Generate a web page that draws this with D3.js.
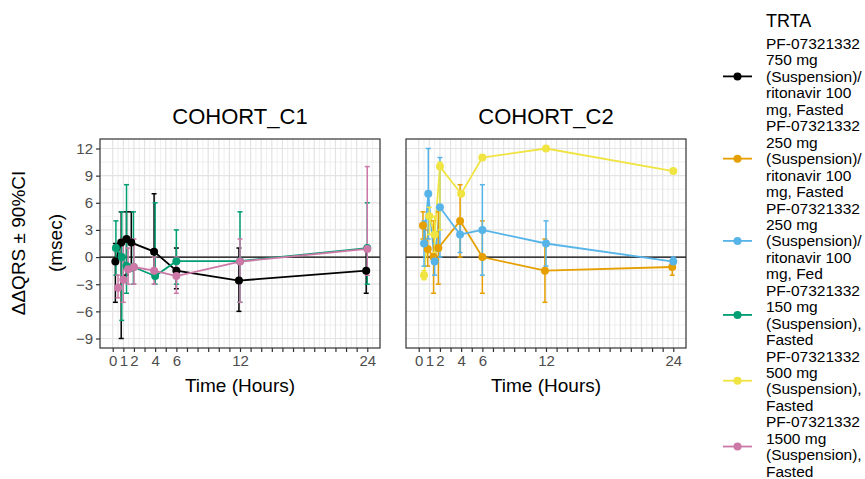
<!DOCTYPE html>
<html>
<head>
<meta charset="utf-8">
<script src="https://cdn.jsdelivr.net/npm/d3@7"></script>
<style>
  body { margin: 0; background: #fff; }
  svg text { font-family: "Liberation Sans", Arial, sans-serif; }
</style>
</head>
<body>
<svg id="chart" width="865" height="479"></svg>
<script>
// series labels / cohorts / colours
const seriesLabels = [
  ['PF-07321332', '750 mg', '(Suspension)/', 'ritonavir 100', 'mg, Fasted'],
  ['PF-07321332', '250 mg', '(Suspension)/', 'ritonavir 100', 'mg, Fasted'],
  ['PF-07321332', '250 mg', '(Suspension)/', 'ritonavir 100', 'mg, Fed'],
  ['PF-07321332', '150 mg', '(Suspension),', 'Fasted'],
  ['PF-07321332', '500 mg', '(Suspension),', 'Fasted'],
  ['PF-07321332', '1500 mg', '(Suspension),', 'Fasted']
];
const seriesCohort = ['COHORT_C1', 'COHORT_C2', 'COHORT_C2', 'COHORT_C1', 'COHORT_C2', 'COHORT_C1'];
const seriesColors = ['#000000', '#E69F00', '#56B4E9', '#009E73', '#F0E442', '#CC79A7'];
const cohorts = ['COHORT_C1', 'COHORT_C2'];

// 750 mg / ritonavir, fasted
const t750r = [0.25, 0.8, 1.3, 1.75, 3.9, 6, 11.9, 23.9];
const m750r = [-0.5, 1.6, 2.0, 1.6, 0.6, -1.5, -2.6, -1.5];
const lo750r = [-5, -9, -2, -1.5, -1.5, -3.5, -6, -4];
const hi750r = [1.5, 5, 5, 5, 7, 1, 1, 1];
// 250 mg / ritonavir, fasted
const t250r = [0.4, 0.85, 1.4, 1.85, 3.9, 6, 11.9, 23.9];
const m250r = [3.5, 0.9, 0.0, 1.0, 4.0, 0.0, -1.5, -1.1];
const lo250r = [2, -1, -4, -3, 0, -4, -5, -2];
const hi250r = [5, 3, 4, 5, 8, 4, 2, -0.3];
// 250 mg / ritonavir, fed
const t250f = [0.5, 0.9, 1.5, 2.0, 3.9, 6, 12, 24];
const m250f = [1.5, 7.0, -0.5, 5.5, 2.5, 3.0, 1.5, -0.5];
const lo250f = [-1, 2, -2, 0, 0.5, -2, -1, -1];
const hi250f = [4, 12, 1.5, 11, 4, 8, 4, 0];
// 150 mg, fasted
const t150 = [0.3, 0.85, 1.3, 1.95, 4, 6, 12, 24];
const m150 = [1.0, 0.0, -1.0, -1.1, -2.1, -0.45, -0.45, 1.0];
const lo150 = [-2, -7, -4, -3, -3, -3, -5, -3];
const hi150 = [4, 5, 8, 5, 6, 3, 5, 6];
// 500 mg, fasted
const t500 = [0.5, 1.0, 1.5, 2.0, 4.0, 6, 12, 24];
const m500 = [-2.0, 4.5, 2.5, 10.0, 7.0, 11.0, 12.0, 9.5];
const lo500 = [-2.5, 2.5, 0.5, 3, 7, 11, 12, 9.5];
const hi500 = [-1.5, 5.5, 4.5, 10.5, 7, 11, 12, 9.5];
// 1500 mg, fasted
const t1500 = [0.5, 1.0, 1.45, 2.0, 3.9, 6, 12, 24];
const m1500 = [-3.4, -2.5, -1.35, -1.1, -1.5, -2.1, -0.5, 0.9];
const lo1500 = [-4.5, -5, -3, -3, -3, -4, -5, -2];
const hi1500 = [-2, 2, 1, 2, 0, 0, 2, 10];

const xTickLabels = [0, 1, 2, 4, 6, 12, 24];
const yTickLabels = [-9, -6, -3, 0, 3, 6, 9, 12];

const seriesData = [
  [t750r, m750r, lo750r, hi750r],
  [t250r, m250r, lo250r, hi250r],
  [t250f, m250f, lo250f, hi250f],
  [t150, m150, lo150, hi150],
  [t500, m500, lo500, hi500],
  [t1500, m1500, lo1500, hi1500]
].map((s, i) => ({
  idx: i,
  cohort: seriesCohort[i],
  color: seriesColors[i],
  pts: s[0].map((t, j) => ({t: t, v: s[1][j], lo: s[2][j], hi: s[3][j]}))
}));

const svg = d3.select('#chart');
const panelTop = 139, panelBottom = 348, panelW = 280;
const panelLefts = [100, 406];

const y = d3.scaleLinear().domain([-10.05, 13.05]).range([panelBottom, panelTop]);

cohorts.forEach((c, pi) => {
  const x0 = panelLefts[pi];
  const x = d3.scaleLinear().domain([-1.2, 25.2]).range([x0, x0 + panelW]);
  const g = svg.append('g');

  g.append('rect').attr('x', x0).attr('y', panelTop).attr('width', panelW)
    .attr('height', panelBottom - panelTop).attr('fill', '#fff');

  // minor grid
  const xMinor = d3.range(0, 25, 1).map(d => d + 0.5).filter(d => d < 25.2);
  const yMinor = d3.range(-10.5, 13.5, 3);
  g.selectAll('.vminor').data(xMinor).enter().append('line')
    .attr('x1', d => x(d)).attr('x2', d => x(d)).attr('y1', panelTop).attr('y2', panelBottom)
    .attr('stroke', '#e8e8e8').attr('stroke-width', 0.7);
  g.selectAll('.hminor').data(yMinor.filter(d => d > -10.05 && d < 13.05)).enter().append('line')
    .attr('x1', x0).attr('x2', x0 + panelW).attr('y1', d => y(d)).attr('y2', d => y(d))
    .attr('stroke', '#e8e8e8').attr('stroke-width', 0.7);
  // major grid
  const xMajor = d3.range(0, 25, 1);
  g.selectAll('.vmajor').data(xMajor).enter().append('line')
    .attr('x1', d => x(d)).attr('x2', d => x(d)).attr('y1', panelTop).attr('y2', panelBottom)
    .attr('stroke', '#e3e3e3').attr('stroke-width', 1.2);
  g.selectAll('.hmajor').data(yTickLabels).enter().append('line')
    .attr('x1', x0).attr('x2', x0 + panelW).attr('y1', d => y(d)).attr('y2', d => y(d))
    .attr('stroke', '#e3e3e3').attr('stroke-width', 1.2);

  // zero reference line
  g.append('line').attr('x1', x0).attr('x2', x0 + panelW).attr('y1', y(0)).attr('y2', y(0))
    .attr('stroke', '#000').attr('stroke-width', 1.2);

  const ser = seriesData.filter(s => s.cohort === c);
  const line = d3.line().x(d => x(d.t)).y(d => y(d.v));

  ser.forEach(s => {
    g.append('path').datum(s.pts).attr('d', line).attr('fill', 'none')
      .attr('stroke', s.color).attr('stroke-width', 1.8);
  });
  ser.forEach(s => {
    const eb = g.append('g').attr('stroke', s.color).attr('stroke-width', 1.5);
    eb.selectAll('.bar').data(s.pts).enter().append('line')
      .attr('x1', d => x(d.t)).attr('x2', d => x(d.t)).attr('y1', d => y(d.lo)).attr('y2', d => y(d.hi));
    eb.selectAll('.caplo').data(s.pts).enter().append('line')
      .attr('x1', d => x(d.t) - 2.5).attr('x2', d => x(d.t) + 2.5).attr('y1', d => y(d.lo)).attr('y2', d => y(d.lo));
    eb.selectAll('.caphi').data(s.pts).enter().append('line')
      .attr('x1', d => x(d.t) - 2.5).attr('x2', d => x(d.t) + 2.5).attr('y1', d => y(d.hi)).attr('y2', d => y(d.hi));
  });
  ser.forEach(s => {
    g.selectAll(null).data(s.pts).enter().append('circle')
      .attr('cx', d => x(d.t)).attr('cy', d => y(d.v)).attr('r', 4).attr('fill', s.color);
  });

  // panel border
  g.append('rect').attr('x', x0).attr('y', panelTop).attr('width', panelW)
    .attr('height', panelBottom - panelTop).attr('fill', 'none')
    .attr('stroke', '#333').attr('stroke-width', 1.2);

  // x axis
  const xAxis = d3.axisBottom(x).tickValues(d3.range(0, 25, 1)).tickSize(4).tickPadding(3)
    .tickFormat(d => xTickLabels.includes(d) ? d : '');
  const xa = g.append('g').attr('transform', `translate(0,${panelBottom})`).call(xAxis);
  xa.select('.domain').remove();
  xa.selectAll('line').attr('stroke', '#333').attr('stroke-width', 1.2);
  xa.selectAll('text').attr('font-size', 15).attr('fill', '#4d4d4d')
    .attr('font-family', '"Liberation Sans", Arial, sans-serif');

  g.append('text').attr('x', x0 + panelW / 2).attr('y', 392).attr('text-anchor', 'middle')
    .attr('font-size', 19).attr('fill', '#000').text('Time (Hours)');

  g.append('text').attr('x', x0 + panelW / 2).attr('y', 124).attr('text-anchor', 'middle')
    .attr('font-size', 22).attr('fill', '#000').text(c);

  if (pi === 0) {
    const yAxis = d3.axisLeft(y).tickValues(yTickLabels).tickSize(4).tickPadding(3);
    const ya = g.append('g').attr('transform', `translate(${x0},0)`).call(yAxis);
    ya.select('.domain').remove();
    ya.selectAll('line').attr('stroke', '#333').attr('stroke-width', 1.2);
    ya.selectAll('text').attr('font-size', 15).attr('fill', '#4d4d4d')
      .attr('font-family', '"Liberation Sans", Arial, sans-serif');
  }
});

// y axis title
const yt = svg.append('text').attr('transform', 'translate(0,243) rotate(-90)')
  .attr('text-anchor', 'middle').attr('font-size', 19).attr('fill', '#000');
yt.append('tspan').attr('x', 0).attr('y', 25).text('\u0394\u0394QRS \u00b1 90%CI');
yt.append('tspan').attr('x', 0).attr('y', 62).text('(msec)');

// legend
const lg = svg.append('g');
lg.append('text').attr('x', 766).attr('y', 27).attr('font-size', 18).attr('fill', '#000').text('TRTA');
const lineStep = 16.45;
let lineIdx = 0;
seriesLabels.forEach((lines, i) => {
  const firstY = 43.5 + lineIdx * lineStep;
  const centerY = firstY + (lines.length - 1) * lineStep / 2;
  lg.append('line').attr('x1', 723).attr('x2', 752).attr('y1', centerY).attr('y2', centerY)
    .attr('stroke', seriesColors[i]).attr('stroke-width', 1.8);
  lg.append('circle').attr('cx', 737.5).attr('cy', centerY).attr('r', 4).attr('fill', seriesColors[i]);
  lines.forEach((l, k) => {
    lg.append('text').attr('x', 766).attr('y', firstY + k * lineStep + 5.5)
      .attr('font-size', 15.5).attr('fill', '#000').text(l);
  });
  lineIdx += lines.length;
});
</script>
</body>
</html>
